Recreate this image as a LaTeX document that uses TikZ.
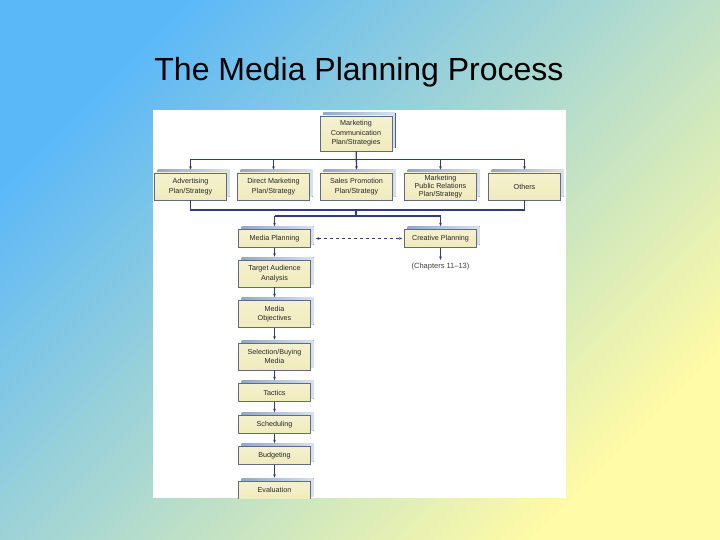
\documentclass[tikz,border=0pt]{standalone}
\usepackage{fontspec}
\setmainfont{Liberation Sans}
\usetikzlibrary{arrows.meta,shadows}
\definecolor{bgblue}{HTML}{5BB8F8}
\definecolor{bgmid}{HTML}{ACD9E2}
\definecolor{bgyel}{HTML}{FFFBA6}
\definecolor{boxfill}{HTML}{F0EBBB}
\definecolor{boxedge}{HTML}{5F6A86}
\definecolor{shband}{HTML}{8FA8CC}
\definecolor{shdark}{HTML}{3A4C78}
\definecolor{lnk}{HTML}{2E3D80}
\tikzset{
  stage/.style={draw=boxedge,line width=0.5pt,top color=boxfill!70!white,bottom color=boxfill,
    minimum width=72pt,minimum height=27pt,inner sep=1pt,align=center,
    font=\fontsize{7.2}{9.5}\selectfont,text=black!85,
    general shadow={fill=shdark,shadow xshift=3.8pt,shadow yshift=3pt},
    general shadow={left color=shband,right color=shband!35!white,shadow xshift=3pt,shadow yshift=3pt}},
  lowstage/.style={stage,minimum height=18pt},
  link/.style={-{Stealth[length=3.5pt,width=2.6pt]},draw=lnk,line width=0.7pt},
  bus/.style={draw=lnk,line width=1.4pt},
}

\begin{document}
\begin{tikzpicture}[x=1pt,y=-1pt]
  \useasboundingbox (0,0) rectangle (720,540);
  \shade[shading=axis,top color=bgblue,middle color=bgmid,bottom color=bgyel,shading angle=45] (0,0) rectangle (720,540);
  \node[anchor=base,font=\fontsize{32}{36}\selectfont] (title) at (359,81) {The Media Planning Process};
  \fill[white] (153,110) rectangle (566,498);
  \begin{scope}
  \clip (153,108) rectangle (566,498);
  % plan levels
  \node[stage,minimum height=35pt] (mcp) at (356,133.5) {Marketing\\Communication\\Plan/Strategies};
  \node[stage] (adv) at (190.5,186.5) {Advertising\\Plan/Strategy};
  \node[stage] (dm) at (273.5,186.5) {Direct Marketing\\Plan/Strategy};
  \node[stage] (sp) at (356.5,186.5) {Sales Promotion\\Plan/Strategy};
  \node[stage,font=\fontsize{7.2}{8.2}\selectfont] (mpr) at (440.5,186.5) {Marketing\\Public Relations\\Plan/Strategy};
  \node[stage] (oth) at (524.5,186.5) {Others};
  % media planning column
  \node[lowstage] (mp) at (274.5,238.5) {Media Planning};
  \node[lowstage] (cp) at (440.5,238.5) {Creative Planning};
  \node[font=\fontsize{7.5}{9}\selectfont,text=black!75] (chap) at (440.5,267) {(Chapters 11--13)};
  \node[stage] (ta) at (274.5,273.5) {Target Audience\\Analysis};
  \node[stage] (mo) at (274.5,314) {Media\\Objectives};
  \node[stage] (sb) at (274.5,356.5) {Selection/Buying\\Media};
  \node[lowstage] (tac) at (274.5,392.5) {Tactics};
  \node[lowstage] (sch) at (274.5,424.5) {Scheduling};
  \node[lowstage] (bud) at (274.5,455.5) {Budgeting};
  \node[lowstage] (ev) at (274.5,490) {Evaluation};
  % connectors
  \coordinate (b1) at (356,159);
  \coordinate (b2) at (356,210);
  \coordinate (b3) at (356,216);
  \draw[draw=lnk,line width=0.7pt] (adv.north |- b1) -- (oth.north |- b1);
  \draw[link,line width=1.3pt] (mcp) -- ([yshift=3pt]sp.north);
  \foreach \n in {adv,dm,mpr,oth}
    \draw[link] (\n.north |- b1) -- ([yshift=3pt]\n.north);
  \draw[bus] (adv.south) -- (adv.south |- b2) -- (oth.south |- b2) -- (oth.south);
  \draw[bus] (b2) -- (b3);
  \draw[bus] (mp.north |- b3) -- (cp.north |- b3);
  \draw[link,line width=1.2pt] (mp.north |- b3) -- ([yshift=3pt]mp.north);
  \draw[link,line width=1.2pt] (cp.north |- b3) -- ([yshift=3pt]cp.north);
  \draw[link,{Stealth[length=3.5pt,width=2.6pt]}-{Stealth[length=3.5pt,width=2.6pt]},dashed] ([xshift=5pt]mp.east) -- ([xshift=-2pt]cp.west);
  \draw[link] (cp) -- (chap);
  \foreach \a/\b in {mp/ta,ta/mo,mo/sb,sb/tac,tac/sch,sch/bud,bud/ev}
    \draw[link] (\a) -- ([yshift=3pt]\b.north);
  \end{scope}
\end{tikzpicture}
\end{document}
